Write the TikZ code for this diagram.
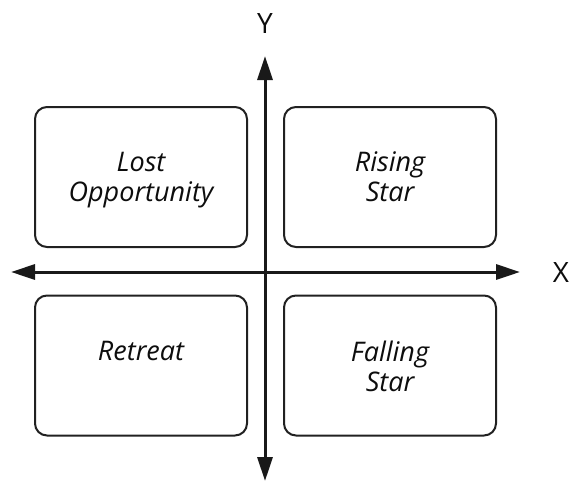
\documentclass[tikz,border=0pt]{standalone}
\usepackage{fontspec}
\setmainfont{Open Sans}
\usetikzlibrary{arrows.meta,positioning}
\tikzset{
	quad/.style={draw=black!87, line width=2pt, rounded corners=12pt, minimum width=212pt, minimum height=140pt, inner sep=0pt},
	quadtext/.style={font=\itshape\fontsize{27}{30}\selectfont, align=center, anchor=north, inner sep=0pt, text=black!95},
	axis/.style={line width=3pt, draw=black!90, >={Triangle[length=24pt,width=15pt]}, <->},
	axlabel/.style={font=\fontsize{28}{30}\selectfont, text=black!95, inner sep=0pt}
}

\begin{document}
\begin{tikzpicture}[x=1pt,y=-1pt]
			%%%%% START %%%%%
			\useasboundingbox (0,0) rectangle (569,482);
			
			\node[quad] (lost) at (141, 177) {};
			\node[quad] (rising) at (390, 177) {};
			\node[quad] (retreat) at (141, 365.5) {};
			\node[quad] (falling) at (390, 365.5) {};
			
			\node[quadtext, below=46pt of lost.north] (lostText) {Lost\\Opportunity};
			\node[quadtext, below=45pt of rising.north] (risingText) {Rising\\Star};
			\node[quadtext, below=47pt of retreat.north] (retreatText) {Retreat};
			\node[quadtext, below=46pt of falling.north] (fallingText) {Falling\\Star};
			
			\coordinate (yTop) at (265, 56);
			\coordinate (yBottom) at (265, 481);
			\coordinate (xLeft) at (11, 272);
			\coordinate (xRight) at (520, 272);
			
			\draw[axis] (yBottom) -- (yTop);
			\draw[axis] (xLeft) -- (xRight);
			
			\node[axlabel] (yLabel) at (265, 24) {Y};
			\node[axlabel] (xLabel) at (561, 272) {X};
			
			%%%%% END %%%%%
\end{tikzpicture}
\end{document}
